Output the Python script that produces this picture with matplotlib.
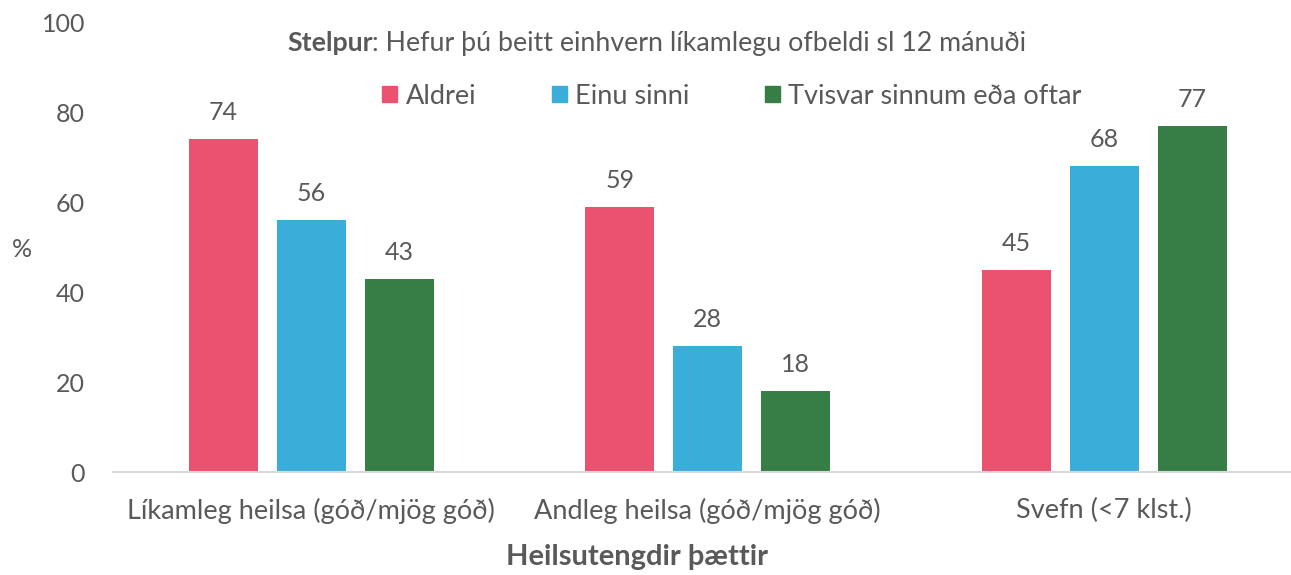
import matplotlib
matplotlib.use("Agg")
import matplotlib.pyplot as plt
import numpy as np
from matplotlib.patches import Patch

categories = ["Líkamleg heilsa (góð/mjög góð)", "Andleg heilsa (góð/mjög góð)", "Svefn (<7 klst.)"]
series_names = ["Aldrei", "Einu sinni", "Tvisvar sinnum eða oftar"]
aldrei = [74, 59, 45]
einu_sinni = [56, 28, 68]
tvisvar = [43, 18, 77]
colors = ["#EA526F", "#3AADD9", "#367E45"]
yticks = [0, 20, 40, 60, 80, 100]

plt.rcParams['font.family'] = ['Lato', 'DejaVu Sans']
txt = "#595959"

fig = plt.figure(figsize=(12.91, 5.75), dpi=100)
ax = fig.add_axes([113/1291, (575-472)/575, 3*396.5/1291, 450/575])

x = np.arange(len(categories))
bw = 0.174
step = 0.222
for i, (vals, c) in enumerate(zip([aldrei, einu_sinni, tvisvar], colors)):
    pos = x + (i - 1) * step
    ax.bar(pos, vals, width=bw, color=c, zorder=2)
    for p, v in zip(pos, vals):
        ax.text(p, v + 3.3, f"{v}", ha="center", va="bottom", fontsize=18, color=txt)

ax.set_xlim(-0.5, 2.5)
ax.set_ylim(0, 100)
ax.set_yticks(yticks)
ax.set_yticklabels([str(t) for t in yticks], fontsize=18, color=txt)
ax.set_xticks(x)
ax.set_xticklabels(categories, fontsize=19.5, color=txt)
ax.tick_params(axis='both', length=0)
ax.tick_params(axis='y', pad=20)
ax.tick_params(axis='x', pad=19)
for s in ["top", "right", "left"]:
    ax.spines[s].set_visible(False)
ax.spines["bottom"].set_color("#D9D9D9")
ax.spines["bottom"].set_linewidth(1.5)

fig.text(22/1291, 1 - 250/575, "%", fontsize=18, color=txt, ha="center", va="center")
fig.text(637/1291, 1 - 557/575, "Heilsutengdir þættir", fontsize=21, color=txt, ha="center", va="center", fontweight="bold")

t1 = fig.text(287/1291, 1 - 43/575, "Stelpur", fontsize=19.3, color=txt, ha="left", va="center", fontweight="bold")
fig.canvas.draw()
bb = t1.get_window_extent()
fig.text(bb.x1/1291, 1 - 43/575, ": Hefur þú beitt einhvern líkamlegu ofbeldi sl 12 mánuði", fontsize=19.3, color=txt, ha="left", va="center")

handles = [Patch(color=c) for c in colors]
fig.legend(handles, series_names, loc="center", bbox_to_anchor=(732/1291, 1 - 96/575), ncol=3,
           frameon=False, fontsize=19.5, labelcolor=txt, handlelength=0.55, handleheight=0.55,
           handletextpad=0.3, columnspacing=2.8)

fig.savefig("out.png", dpi=100)
